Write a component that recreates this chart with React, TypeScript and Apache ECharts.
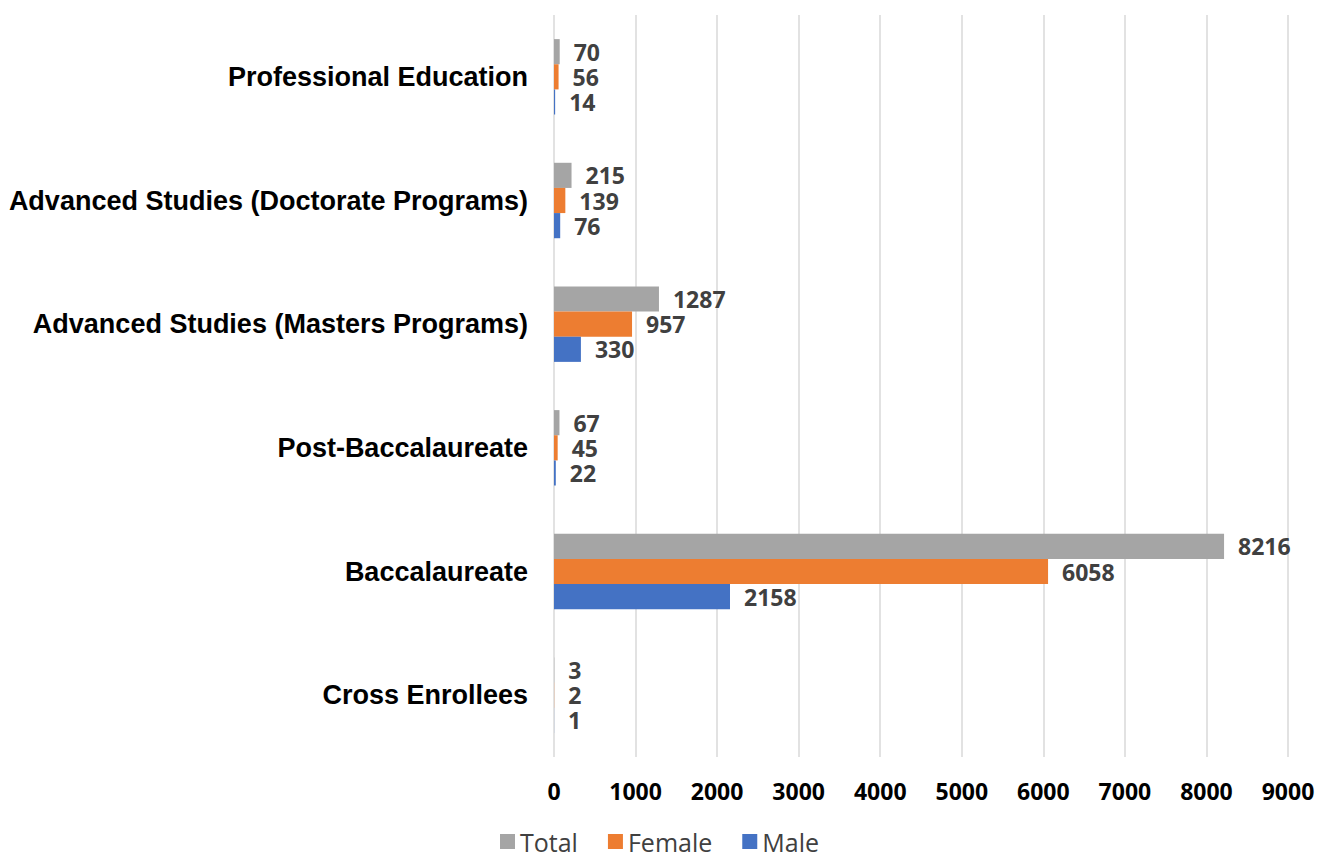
import React, { useEffect, useRef } from "react";
import * as echarts from "echarts";

const categories = [
  "Cross Enrollees",
  "Baccalaureate",
  "Post-Baccalaureate",
  "Advanced Studies (Masters Programs)",
  "Advanced Studies (Doctorate Programs)",
  "Professional Education",
];
const maleValues = [1, 2158, 22, 330, 76, 14];
const femaleValues = [2, 6058, 45, 957, 139, 56];
const totalValues = [3, 8216, 67, 1287, 215, 70];
const xTicks = [0, 1000, 2000, 3000, 4000, 5000, 6000, 7000, 8000, 9000];

export default function App() {
  const ref = useRef<HTMLDivElement>(null);
  useEffect(() => {
    if (!ref.current) return;
    const chart = echarts.init(ref.current, undefined, { renderer: "svg" });
    const label = {
      show: true,
      position: "right",
      distance: 14,
      color: "#404040",
      fontFamily: "Open Sans",
      fontWeight: "bold",
      fontSize: 23,
      lineHeight: 24,
    };
    const mk = (name: string, data: number[], color: string) => ({
      name,
      type: "bar",
      data,
      barGap: "0%",
      barCategoryGap: "39%",
      itemStyle: { color },
      label,
    });
    chart.setOption({
      animation: false,
      grid: { left: 554, right: 31, top: 15, bottom: 102, containLabel: false },
      legend: {
        bottom: 0,
        left: "center",
        data: ["Total", "Female", "Male"],
        itemWidth: 15,
        itemHeight: 15,
        itemGap: 30,
        icon: "rect",
        textStyle: { fontFamily: "Open Sans", fontSize: 25, color: "#404040" },
      },
      xAxis: {
        type: "value",
        min: xTicks[0],
        max: xTicks[xTicks.length - 1],
        interval: 1000,
        axisLine: { show: false },
        axisTick: { show: false },
        splitLine: { lineStyle: { color: "#d9d9d9", width: 1.5 } },
        axisLabel: {
          margin: 22,
          color: "#000",
          fontFamily: "Open Sans",
          fontWeight: "bold",
          fontSize: 23,
          formatter: (v: number) => String(v),
        },
      },
      yAxis: {
        type: "category",
        data: categories,
        axisLine: { show: false },
        axisTick: { show: false },
        axisLabel: {
          margin: 26,
          color: "#000",
          fontFamily: "Liberation Sans",
          fontWeight: "bold",
          fontSize: 27,
        },
      },
      series: [
        mk("Total", totalValues, "#A5A5A5"),
        mk("Female", femaleValues, "#ED7D31"),
        mk("Male", maleValues, "#4472C4"),
      ],
    });
    return () => chart.dispose();
  }, []);
  return <div ref={ref} style={{ width: 1319, height: 859, position: "absolute", left: 0, top: 0 }} />;
}
